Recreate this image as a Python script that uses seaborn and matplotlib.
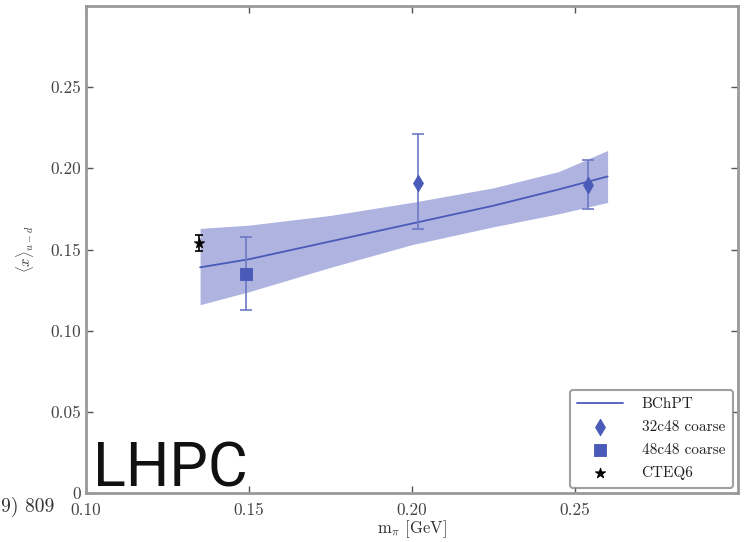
import matplotlib
matplotlib.use("Agg")
import matplotlib.pyplot as plt
import seaborn as sns
import numpy as np
import pandas as pd

# ---- data ----
band_x = [0.135, 0.15, 0.175, 0.20, 0.225, 0.245, 0.26]
band_line = [0.139, 0.144, 0.155, 0.166, 0.177, 0.187, 0.195]
band_upper = [0.163, 0.165, 0.171, 0.179, 0.188, 0.198, 0.211]
band_lower = [0.116, 0.124, 0.139, 0.153, 0.164, 0.172, 0.179]

c32_x = [0.2018, 0.254]
c32_y = [0.191, 0.190]
c32_lo = [0.1626, 0.175]
c32_hi = [0.221, 0.205]

c48_x = [0.149]
c48_y = [0.135]
c48_lo = [0.113]
c48_hi = [0.158]

cteq_x = [0.1347]
cteq_y = [0.154]
cteq_err = [0.005]

xticks = [0.10, 0.15, 0.20, 0.25]
yticks = [0.0, 0.05, 0.10, 0.15, 0.20, 0.25]

sns.set_theme(style="ticks")
plt.rcParams["font.family"] = ["serif"]
plt.rcParams["font.serif"] = ["cmr10", "DejaVu Serif"]
plt.rcParams["mathtext.fontset"] = "cm"
plt.rcParams["axes.formatter.use_mathtext"] = True

fig = plt.figure(figsize=(7.44, 5.42), dpi=100)
ax = fig.add_axes([86/744, 1-493/542, (738-86)/744, (493-6)/542])

blue = "#4a5ab8"
band_col = "#aeb3e0"
err_col = "#6d79c6"

ax.fill_between(band_x, band_lower, band_upper, color=band_col, lw=0, zorder=1)
df_line = pd.DataFrame({"x": band_x, "y": band_line})
sns.lineplot(data=df_line, x="x", y="y", ax=ax, color=blue, lw=1.3, zorder=2, label="BChPT")

def yerr(y, lo, hi):
    return [np.array(y) - np.array(lo), np.array(hi) - np.array(y)]

ax.errorbar(c32_x, c32_y, yerr=yerr(c32_y, c32_lo, c32_hi), fmt="none",
            ecolor=err_col, elinewidth=1.2, capsize=4, capthick=1.2, zorder=3)
ax.errorbar(c48_x, c48_y, yerr=yerr(c48_y, c48_lo, c48_hi), fmt="none",
            ecolor=err_col, elinewidth=1.2, capsize=4, capthick=1.2, zorder=3)
ax.errorbar(cteq_x, cteq_y, yerr=cteq_err, fmt="none",
            ecolor="black", elinewidth=1.2, capsize=3, capthick=1.2, zorder=3)

sns.scatterplot(x=c32_x, y=c32_y, ax=ax, marker="d", s=70, color=blue,
                edgecolor=blue, zorder=4, label="32c48 coarse")
sns.scatterplot(x=c48_x, y=c48_y, ax=ax, marker="s", s=65, color=blue,
                edgecolor=blue, zorder=4, label="48c48 coarse")
sns.scatterplot(x=cteq_x, y=cteq_y, ax=ax, marker="*", s=60, color="black",
                edgecolor="black", zorder=4, label="CTEQ6")

ax.set_xlim(0.10, 0.30)
ax.set_ylim(0.0, 0.30)
ax.set_xticks(xticks)
ax.set_yticks(yticks)
ax.set_xticklabels(["0.10", "0.15", "0.20", "0.25"])
ax.set_yticklabels(["0", "0.05", "0.10", "0.15", "0.20", "0.25"])
ax.tick_params(direction="in", length=5, width=1, colors="#555555",
               labelcolor="#444444", labelsize=12.5, top=True, right=True)
ax.tick_params(axis="x", pad=7)
for s in ax.spines.values():
    s.set_color("#999999")
    s.set_linewidth(2)

ax.set_xlabel(r"m$_\pi$ [GeV]", fontsize=12, color="#333333", labelpad=0)
ax.set_ylabel(r"$\langle x\rangle_{u-d}$", fontsize=10.5, color="#333333", labelpad=10)

leg = ax.legend(loc="lower right", fontsize=11, frameon=True, fancybox=True,
                borderaxespad=0.35, handlelength=3.0, labelspacing=0.6,
                borderpad=0.5, handletextpad=1.2)
leg.get_frame().set_edgecolor("#888888")
leg.get_frame().set_linewidth(1.5)
for t in leg.get_texts():
    t.set_color("#222222")

ax.text(0.102, 0.004, "LHPC", fontsize=44, family=["Roboto"], weight="normal",
        color="#111111", ha="left", va="baseline", zorder=5)
fig.text(1/744, 1-507/542, "9) 809", fontsize=14, color="#333333", ha="left", va="center")

fig.savefig("out.png", dpi=100)
